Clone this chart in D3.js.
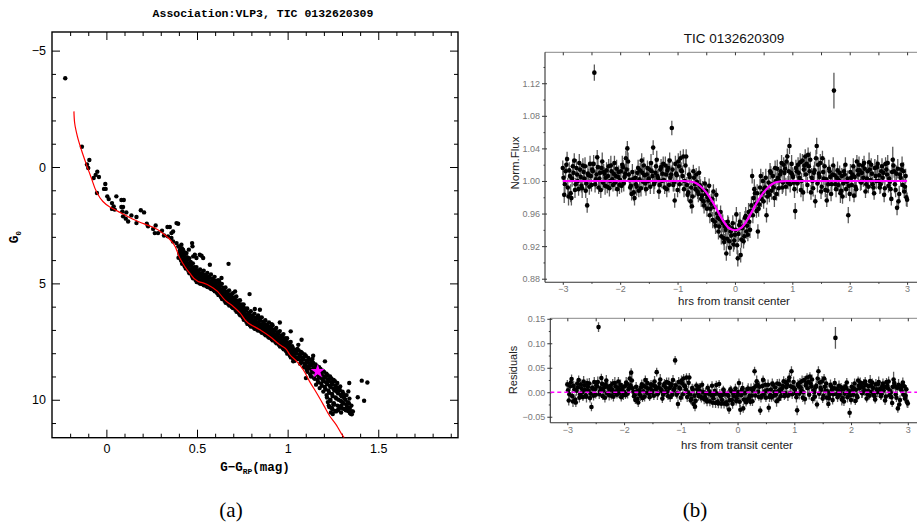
<!DOCTYPE html>
<html>
<head>
<meta charset="utf-8">
<script src="https://cdn.jsdelivr.net/npm/d3@7"></script>
<style>
  html, body { margin: 0; padding: 0; background: #fff; }
  svg { display: block; }
</style>
</head>
<body>
<svg id="fig" width="917" height="529"></svg>
<script>
// ================= data =================

// Panel (a): association members, [G - G_RP, G_0]
const brightMembers = [
  [-0.227,-3.81],[-0.135,-0.87],[-0.094,-0.30],[-0.107,-0.11],[-0.100,0.04],[-0.050,0.20],
  [-0.059,0.34],[-0.070,0.47],[-0.041,0.43],[-0.052,1.12],[-0.006,0.73],[-0.013,0.94],
  [-0.004,0.94],[0.005,1.26],[0.013,1.38],[0.055,1.26],[0.083,1.42],[0.096,1.42],
  [0.031,1.55],[0.040,1.69],[0.031,1.80],[0.083,1.72],[0.092,1.72],[0.046,1.83],
  [0.088,1.91],[0.110,1.95],[0.138,2.08],[0.166,2.15],[0.092,2.12],[0.107,2.22],
  [0.120,2.34],[0.190,1.86],[0.208,1.95],[0.166,2.41],[0.223,2.44],[0.230,2.55],
  [0.272,2.51],[0.258,2.66],[0.267,2.84],[0.285,2.84],[0.307,2.74],[0.337,2.58],
  [0.350,2.58],[0.387,2.41],[0.396,2.44],[0.368,2.77],[0.359,2.84],[0.318,2.94],
  [0.340,2.98],[0.359,3.05],[0.368,3.20],[0.387,3.27],[0.400,3.41],[0.414,3.34],
  [0.423,3.55],[0.433,3.67],[0.442,3.70],[0.473,3.27],[0.475,3.41],[0.455,3.55],
  [0.488,3.77],[0.525,3.81],[0.405,3.77]
];

// main-sequence band, [G - G_RP, G_0]
const bandMembers = [
  [0.398,3.90],[0.403,3.72],[0.405,3.58],[0.397,3.42],
  [0.412,4.02],[0.408,3.86],[0.414,3.70],[0.409,3.55],
  [0.418,4.16],[0.423,3.98],[0.421,3.82],[0.425,3.66],[0.417,3.50],
  [0.432,4.26],[0.428,4.08],[0.434,3.93],[0.429,3.78],
  [0.438,4.36],[0.443,4.18],[0.441,4.04],[0.445,3.88],[0.437,3.72],
  [0.452,4.46],[0.448,4.30],[0.454,4.14],[0.449,3.98],
  [0.458,4.57],[0.463,4.40],[0.461,4.24],[0.465,4.08],[0.457,3.92],
  [0.472,4.68],[0.468,4.50],[0.474,4.35],[0.469,4.20],
  [0.478,4.78],[0.483,4.60],[0.481,4.46],[0.485,4.30],[0.477,4.14],
  [0.492,4.86],[0.488,4.70],[0.494,4.55],[0.489,4.38],
  [0.498,4.94],[0.503,4.78],[0.501,4.62],[0.505,4.46],[0.497,4.30],
  [0.512,4.98],[0.508,4.82],[0.514,4.68],[0.509,4.52],
  [0.518,5.02],[0.523,4.86],[0.521,4.72],[0.525,4.56],[0.517,4.40],
  [0.532,5.04],[0.528,4.90],[0.534,4.76],[0.529,4.60],
  [0.538,5.08],[0.543,4.93],[0.541,4.80],[0.545,4.64],[0.537,4.46],
  [0.552,5.12],[0.548,4.97],[0.554,4.84],[0.549,4.68],
  [0.558,5.16],[0.563,5.01],[0.561,4.88],[0.565,4.72],[0.557,4.55],
  [0.572,5.20],[0.568,5.05],[0.574,4.92],[0.569,4.76],
  [0.578,5.24],[0.583,5.09],[0.581,4.96],[0.585,4.80],[0.577,4.62],
  [0.592,5.28],[0.588,5.13],[0.594,5.00],[0.589,4.85],
  [0.598,5.34],[0.603,5.18],[0.601,5.05],[0.605,4.90],[0.597,4.72],
  [0.612,5.42],[0.608,5.26],[0.614,5.12],[0.609,4.96],
  [0.618,5.50],[0.623,5.33],[0.621,5.18],[0.625,5.03],[0.617,4.86],
  [0.632,5.58],[0.628,5.42],[0.634,5.27],[0.629,5.10],
  [0.638,5.67],[0.643,5.50],[0.641,5.36],[0.645,5.20],[0.637,5.02],
  [0.652,5.75],[0.648,5.58],[0.654,5.44],[0.649,5.28],
  [0.658,5.83],[0.663,5.66],[0.661,5.52],[0.665,5.36],[0.657,5.18],
  [0.672,5.89],[0.668,5.72],[0.674,5.58],[0.669,5.42],
  [0.678,5.95],[0.683,5.78],[0.681,5.64],[0.685,5.48],[0.677,5.30],
  [0.692,6.01],[0.688,5.84],[0.694,5.70],[0.689,5.54],
  [0.698,6.06],[0.703,5.90],[0.701,5.75],[0.705,5.60],[0.697,5.42],
  [0.712,6.14],[0.708,5.97],[0.714,5.83],[0.709,5.67],
  [0.718,6.22],[0.723,6.05],[0.721,5.90],[0.725,5.74],[0.717,5.56],
  [0.732,6.29],[0.728,6.12],[0.734,5.98],[0.729,5.82],
  [0.738,6.37],[0.743,6.20],[0.741,6.05],[0.745,5.90],[0.737,5.72],
  [0.752,6.46],[0.748,6.30],[0.754,6.15],[0.749,5.98],
  [0.758,6.56],[0.763,6.40],[0.761,6.25],[0.765,6.08],[0.757,5.90],
  [0.772,6.65],[0.768,6.48],[0.774,6.33],[0.769,6.16],
  [0.778,6.74],[0.783,6.57],[0.781,6.42],[0.785,6.26],[0.777,6.08],
  [0.792,6.80],[0.788,6.63],[0.794,6.48],[0.789,6.32],
  [0.798,6.86],[0.803,6.70],[0.801,6.55],[0.805,6.38],[0.797,6.20],
  [0.812,6.90],[0.808,6.74],[0.814,6.60],[0.809,6.44],
  [0.818,6.95],[0.823,6.78],[0.821,6.64],[0.825,6.48],[0.817,6.30],
  [0.832,6.99],[0.828,6.82],[0.834,6.68],[0.829,6.52],
  [0.838,7.03],[0.843,6.86],[0.841,6.72],[0.845,6.56],[0.837,6.38],
  [0.852,7.07],[0.848,6.90],[0.854,6.76],[0.849,6.60],
  [0.858,7.12],[0.863,6.95],[0.861,6.80],[0.865,6.65],[0.857,6.46],
  [0.872,7.17],[0.868,7.00],[0.874,6.86],[0.869,6.70],
  [0.878,7.23],[0.883,7.06],[0.881,6.92],[0.885,6.76],[0.877,6.58],
  [0.892,7.29],[0.888,7.12],[0.894,6.97],[0.889,6.82],
  [0.898,7.34],[0.903,7.17],[0.901,7.02],[0.905,6.86],[0.897,6.68],
  [0.912,7.40],[0.908,7.23],[0.914,7.08],[0.909,6.92],
  [0.918,7.45],[0.923,7.28],[0.921,7.14],[0.925,6.98],[0.917,6.80],
  [0.932,7.51],[0.928,7.34],[0.934,7.20],[0.929,7.04],
  [0.938,7.57],[0.943,7.40],[0.941,7.25],[0.945,7.10],[0.937,6.92],
  [0.952,7.64],[0.948,7.47],[0.954,7.32],[0.949,7.16],
  [0.958,7.71],[0.963,7.54],[0.961,7.40],[0.965,7.24],[0.957,7.05],
  [0.972,7.77],[0.968,7.60],[0.974,7.46],[0.969,7.30],
  [0.978,7.83],[0.983,7.66],[0.981,7.52],[0.985,7.36],[0.977,7.18],
  [0.992,7.92],[0.988,7.75],[0.994,7.60],[0.989,7.44],
  [0.998,8.02],[1.003,7.85],[1.001,7.70],[1.005,7.54],[0.997,7.36],
  [1.012,8.10],[1.008,7.93],[1.014,7.78],[1.009,7.62],
  [1.018,8.18],[1.023,8.02],[1.021,7.87],[1.025,7.70],[1.017,7.52],
  [1.032,8.26],[1.028,8.10],[1.034,7.95],[1.029,7.78],
  [1.038,8.33],[1.043,8.17],[1.041,8.02],[1.045,7.86]
];

// cool end of the sequence, [G - G_RP, G_0]
const coolMembers = [
  [1.052,8.20],[1.048,8.00],[1.054,7.82],
  [1.058,8.25],[1.063,8.05],[1.061,7.88],
  [1.072,8.30],[1.068,8.12],[1.074,7.95],[1.069,8.45],
  [1.078,8.38],[1.083,8.18],[1.081,8.00],
  [1.092,8.45],[1.088,8.25],[1.094,8.05],[1.089,8.60],
  [1.098,8.50],[1.103,8.32],[1.101,8.12],[1.105,8.70],
  [1.112,8.58],[1.108,8.40],[1.114,8.20],[1.109,8.80],
  [1.118,8.65],[1.123,8.45],[1.121,8.28],[1.125,8.90],
  [1.132,8.72],[1.128,8.52],[1.134,8.35],[1.129,9.00],
  [1.138,8.80],[1.143,8.60],[1.141,8.42],[1.145,9.05],[1.137,8.25],
  [1.152,8.85],[1.148,8.65],[1.154,8.48],[1.149,9.10],
  [1.158,8.92],[1.163,8.72],[1.161,8.55],[1.165,9.15],[1.157,9.35],
  [1.172,9.00],[1.168,8.80],[1.174,8.60],[1.169,9.25],
  [1.178,9.05],[1.183,8.85],[1.181,8.68],[1.185,9.30],[1.177,9.50],
  [1.192,9.12],[1.188,8.92],[1.194,8.75],[1.189,9.40],
  [1.198,9.20],[1.203,9.00],[1.201,8.80],[1.205,9.45],[1.197,9.65],
  [1.212,9.25],[1.208,9.05],[1.214,8.88],[1.209,9.55],[1.215,9.80],
  [1.218,9.32],[1.223,9.12],[1.221,8.95],[1.225,9.60],[1.217,9.90],[1.222,10.10],
  [1.232,9.40],[1.228,9.20],[1.234,9.00],[1.229,9.70],[1.235,10.00],[1.227,10.25],
  [1.238,9.45],[1.243,9.25],[1.241,9.08],[1.245,9.75],[1.237,10.05],[1.242,10.35],[1.239,10.55],
  [1.252,9.52],[1.248,9.32],[1.254,9.15],[1.249,9.85],[1.255,10.15],[1.247,10.40],
  [1.258,9.60],[1.263,9.40],[1.261,9.20],[1.265,9.90],[1.257,10.20],[1.262,10.48],
  [1.272,9.65],[1.268,9.45],[1.274,9.28],[1.269,9.95],[1.275,10.25],[1.267,10.50],
  [1.278,9.72],[1.283,9.50],[1.281,10.00],[1.285,10.30],[1.277,10.45],
  [1.292,9.78],[1.288,9.58],[1.294,10.05],[1.289,10.35],[1.295,10.55],
  [1.298,9.85],[1.303,9.65],[1.301,10.10],[1.305,10.38],[1.297,10.25],
  [1.312,9.92],[1.308,10.15],[1.314,10.40],[1.309,9.75],
  [1.318,10.00],[1.323,10.20],[1.321,10.45],[1.325,9.80],
  [1.332,10.10],[1.328,10.30],[1.334,10.48],
  [1.338,10.15],[1.343,10.35],[1.341,9.95],
  [1.352,10.25],[1.348,10.50],[1.354,10.62]
];

// scattered members around the sequence
const fieldMembers = [
  [0.674,4.16],[0.790,5.46],[0.710,5.35],[0.957,6.68],[1.017,7.06],[1.077,7.42],
  [1.141,8.11],[1.206,8.35],[0.847,6.13],[0.819,6.10],[0.571,4.20],[0.515,3.77],
  [0.479,3.84],[0.534,3.91],[0.497,3.91],[0.635,4.77],[0.622,4.92],[0.690,5.63],
  [0.755,6.03],[0.838,6.42],[0.912,6.75],[1.059,7.64],[1.101,9.07],[1.031,8.35],
  [1.340,9.28],[1.409,9.18],[1.440,9.26],[1.387,9.89],[1.422,10.04],[1.354,10.50],
  [1.348,10.60],[1.249,10.61],[1.230,10.31],[1.280,10.43],[1.326,10.43],[1.307,9.86],
  [1.335,9.64],[1.290,9.43],[1.267,9.57],[1.252,10.21],[1.344,10.57],[1.360,10.50]
];

// target star
const targetStar = [1.166, 8.78];

// isochrone, [G - G_RP, G_0]
const isochrone = [
  [-0.179,-2.39],[-0.175,-1.89],[-0.160,-1.32],[-0.138,-0.74],[-0.110,-0.10],[-0.083,0.47],
  [-0.055,1.05],[-0.019,1.48],[0.013,1.69],[0.083,1.98],[0.175,2.34],[0.267,2.62],
  [0.322,2.91],[0.368,3.27],[0.405,3.91],[0.459,4.55],[0.506,4.92],[0.534,4.98],
  [0.589,5.20],[0.663,5.78],[0.700,5.99],[0.737,6.27],[0.782,6.70],[0.847,6.99],
  [0.902,7.28],[0.957,7.64],[0.985,7.78],[1.013,8.07],[1.050,8.35],[1.086,8.71],
  [1.120,9.20],[1.160,9.71],[1.200,10.25],[1.234,10.72],[1.270,11.10],[1.300,11.50],
  [1.312,11.63]
];

const cmdXMajor = [0, 0.5, 1, 1.5];
const cmdXMinor = [-0.2,-0.1,0.1,0.2,0.3,0.4,0.6,0.7,0.8,0.9,1.1,1.2,1.3,1.4,1.6,1.7,1.8,1.9];
const cmdYMajor = [-5, 0, 5, 10];
const cmdYMinor = [-4,-3,-2,-1,1,2,3,4,6,7,8,9,11];

// Panel (b): phase-folded light curve, [hours from mid-transit, normalised flux, error]
const lightCurve = [
  [-3.000,1.016,0.009],[-2.975,0.983,0.010],[-2.950,1.012,0.008],[-2.925,1.027,0.009],[-2.900,0.981,0.011],
  [-2.875,1.006,0.008],[-2.850,0.979,0.009],[-2.825,1.018,0.008],[-2.800,1.025,0.009],[-2.775,0.996,0.008],
  [-2.750,1.008,0.009],[-2.725,0.990,0.008],[-2.700,1.014,0.010],[-2.675,0.994,0.008],[-2.650,1.019,0.009],
  [-2.625,1.003,0.008],[-2.600,0.988,0.009],[-2.575,0.970,0.009],[-2.550,1.007,0.008],[-2.525,1.021,0.010],
  [-2.500,0.995,0.008],[-2.475,1.012,0.009],[-2.450,1.133,0.010],[-2.425,1.002,0.012],[-2.400,1.029,0.009],
  [-2.375,0.992,0.008],[-2.350,1.010,0.009],[-2.325,1.016,0.008],[-2.300,0.998,0.009],[-2.275,1.009,0.008],
  [-2.250,1.004,0.009],[-2.225,0.993,0.008],[-2.200,1.018,0.009],[-2.175,1.000,0.008],[-2.150,1.012,0.010],
  [-2.125,0.995,0.008],[-2.100,1.022,0.009],[-2.075,1.006,0.008],[-2.050,0.990,0.009],[-2.025,1.011,0.008],
  [-2.000,1.001,0.009],[-1.975,0.994,0.008],[-1.950,1.017,0.009],[-1.925,1.005,0.008],[-1.900,1.028,0.009],
  [-1.875,1.040,0.009],[-1.850,1.008,0.008],[-1.825,0.992,0.009],[-1.800,0.984,0.008],[-1.775,1.002,0.009],
  [-1.750,0.979,0.009],[-1.725,0.996,0.008],[-1.700,1.010,0.009],[-1.675,0.988,0.008],[-1.650,1.013,0.009],
  [-1.625,1.025,0.009],[-1.600,0.999,0.008],[-1.575,1.007,0.009],[-1.550,0.990,0.008],[-1.525,1.016,0.009],
  [-1.500,1.003,0.008],[-1.475,0.993,0.009],[-1.450,1.012,0.008],[-1.425,1.041,0.009],[-1.400,0.998,0.008],
  [-1.375,1.018,0.009],[-1.350,1.006,0.008],[-1.325,0.987,0.009],[-1.300,1.014,0.008],[-1.275,1.000,0.009],
  [-1.250,1.021,0.009],[-1.225,0.992,0.008],[-1.200,1.008,0.009],[-1.175,1.013,0.008],[-1.150,0.995,0.009],
  [-1.125,1.004,0.008],[-1.100,1.065,0.009],[-1.075,0.995,0.008],[-1.050,0.976,0.009],[-1.025,1.009,0.008],
  [-1.000,0.989,0.009],[-0.975,1.018,0.008],[-0.950,1.028,0.009],[-0.925,1.012,0.008],[-0.900,1.030,0.009],
  [-0.875,1.000,0.008],[-0.850,1.030,0.009],[-0.825,0.983,0.008],[-0.800,1.008,0.009],[-0.775,0.975,0.009],
  [-0.750,0.969,0.009],[-0.725,1.012,0.008],[-0.700,0.996,0.009],[-0.675,1.008,0.008],[-0.650,0.987,0.009],
  [-0.625,1.010,0.008],[-0.600,0.993,0.009],[-0.575,0.982,0.008],[-0.550,0.975,0.009],[-0.525,0.997,0.008],
  [-0.500,0.988,0.009],[-0.475,0.980,0.008],[-0.450,0.994,0.009],[-0.425,0.966,0.009],[-0.400,0.978,0.008],
  [-0.375,0.987,0.009],[-0.350,0.950,0.009],[-0.325,0.983,0.008],[-0.300,0.955,0.009],[-0.275,0.944,0.009],
  [-0.250,0.962,0.008],[-0.225,0.951,0.009],[-0.200,0.930,0.009],[-0.175,0.944,0.008],[-0.150,0.911,0.009],
  [-0.125,0.950,0.008],[-0.100,0.926,0.009],[-0.075,0.938,0.008],[-0.050,0.942,0.009],[-0.025,0.922,0.009],
  [0.000,0.934,0.008],[0.025,0.959,0.009],[0.050,0.905,0.010],[0.075,0.946,0.008],[0.100,0.909,0.009],
  [0.125,0.942,0.008],[0.150,0.926,0.009],[0.175,0.955,0.008],[0.200,0.938,0.009],[0.225,0.934,0.008],
  [0.250,0.950,0.009],[0.275,0.963,0.008],[0.300,1.006,0.009],[0.325,0.979,0.008],[0.350,0.985,0.009],
  [0.375,0.963,0.008],[0.400,0.938,0.009],[0.425,0.971,0.008],[0.450,1.006,0.009],[0.475,0.985,0.008],
  [0.500,0.975,0.009],[0.525,0.992,0.008],[0.550,0.958,0.009],[0.575,0.986,0.008],[0.600,0.983,0.009],
  [0.625,1.010,0.008],[0.650,0.996,0.009],[0.675,0.992,0.008],[0.700,1.016,0.009],[0.725,0.984,0.008],
  [0.750,1.004,0.009],[0.775,1.000,0.008],[0.800,1.012,0.009],[0.825,0.992,0.008],[0.850,1.020,0.009],
  [0.875,1.015,0.008],[0.900,1.024,0.009],[0.925,0.998,0.008],[0.950,1.043,0.010],[0.975,1.010,0.008],
  [1.000,1.008,0.009],[1.025,0.998,0.008],[1.050,0.963,0.010],[1.075,1.012,0.008],[1.100,1.020,0.009],
  [1.125,1.004,0.008],[1.150,0.989,0.009],[1.175,1.025,0.008],[1.200,1.014,0.009],[1.225,1.030,0.009],
  [1.250,1.021,0.008],[1.275,1.032,0.009],[1.300,1.012,0.008],[1.325,0.986,0.009],[1.350,1.000,0.008],
  [1.375,1.010,0.009],[1.400,0.975,0.008],[1.425,1.043,0.010],[1.450,1.020,0.009],[1.475,1.005,0.008],
  [1.500,0.987,0.009],[1.525,1.028,0.009],[1.550,1.003,0.008],[1.575,0.989,0.009],[1.600,0.976,0.008],
  [1.625,0.996,0.009],[1.650,1.012,0.008],[1.675,0.984,0.009],[1.700,1.008,0.008],[1.725,1.111,0.022],
  [1.750,0.996,0.008],[1.775,1.004,0.009],[1.800,0.995,0.008],[1.825,1.010,0.009],[1.850,0.988,0.008],
  [1.875,0.981,0.009],[1.900,1.012,0.008],[1.925,1.020,0.009],[1.950,0.999,0.008],[1.975,0.958,0.010],
  [2.000,0.984,0.009],[2.025,1.004,0.008],[2.050,1.008,0.009],[2.075,0.982,0.008],[2.100,0.993,0.009],
  [2.125,1.024,0.008],[2.150,1.008,0.009],[2.175,1.013,0.008],[2.200,0.998,0.009],[2.225,1.019,0.008],
  [2.250,1.022,0.009],[2.275,0.987,0.008],[2.300,1.003,0.009],[2.325,0.993,0.008],[2.350,1.014,0.009],
  [2.375,1.020,0.008],[2.400,0.996,0.009],[2.425,0.985,0.008],[2.450,1.006,0.009],[2.475,1.017,0.008],
  [2.500,1.000,0.009],[2.525,0.992,0.008],[2.550,1.012,0.009],[2.575,1.004,0.008],[2.600,0.983,0.009],
  [2.625,1.021,0.008],[2.650,1.008,0.009],[2.675,0.994,0.008],[2.700,0.999,0.009],[2.725,0.978,0.008],
  [2.750,1.026,0.016],[2.775,1.012,0.008],[2.800,0.989,0.009],[2.825,0.967,0.009],[2.850,0.975,0.008],
  [2.875,1.008,0.009],[2.900,1.014,0.008],[2.925,0.995,0.009],[2.950,0.987,0.008],[2.975,1.006,0.009],
  [3.000,0.977,0.009],
  [-2.9875,1.004,0.010],[-2.9625,0.996,0.011],[-2.9375,1.020,0.010],[-2.9125,0.992,0.012],[-2.8875,1.013,0.010],
  [-2.8625,0.985,0.011],[-2.8375,1.003,0.010],[-2.8125,1.010,0.011],[-2.7875,0.989,0.010],[-2.7625,1.016,0.011],
  [-2.7375,1.000,0.010],[-2.7125,1.022,0.011],[-2.6875,1.005,0.010],[-2.6625,0.991,0.012],[-2.6375,1.011,0.010],
  [-2.6125,1.018,0.011],[-2.5875,0.997,0.010],[-2.5625,1.009,0.011],[-2.5375,0.993,0.010],[-2.5125,1.006,0.011],
  [-2.4875,1.014,0.010],[-2.4625,1.021,0.011],[-2.4375,0.996,0.010],[-2.4125,1.008,0.012],[-2.3875,1.017,0.010],
  [-2.3625,1.003,0.011],[-2.3375,0.989,0.010],[-2.3125,1.024,0.011],[-2.2875,1.011,0.010],[-2.2625,0.994,0.011],
  [-2.2375,1.013,0.010],[-2.2125,1.006,0.011],[-2.1875,0.991,0.010],[-2.1625,1.019,0.012],[-2.1375,1.002,0.010],
  [-2.1125,1.009,0.011],[-2.0875,0.998,0.010],[-2.0625,1.015,0.011],[-2.0375,1.005,0.010],[-2.0125,0.995,0.011],
  [-1.9875,1.012,0.010],[-1.9625,1.020,0.011],[-1.9375,0.997,0.010],[-1.9125,1.009,0.012],[-1.8875,1.014,0.010],
  [-1.8625,1.024,0.011],[-1.8375,1.001,0.010],[-1.8125,0.994,0.011],[-1.7875,1.011,0.010],[-1.7625,0.986,0.011],
  [-1.7375,1.004,0.010],[-1.7125,0.993,0.011],[-1.6875,1.016,0.010],[-1.6625,1.002,0.012],[-1.6375,0.991,0.010],
  [-1.6125,1.010,0.011],[-1.5875,1.019,0.010],[-1.5625,0.997,0.011],[-1.5375,1.008,0.010],[-1.5125,1.000,0.011],
  [-1.4875,1.014,0.010],[-1.4625,1.022,0.011],[-1.4375,1.006,0.010],[-1.4125,0.996,0.012],[-1.3875,1.010,0.010],
  [-1.3625,1.026,0.011],[-1.3375,1.003,0.010],[-1.3125,0.995,0.011],[-1.2875,1.017,0.010],[-1.2625,1.009,0.011],
  [-1.2375,1.001,0.010],[-1.2125,1.019,0.011],[-1.1875,0.990,0.010],[-1.1625,1.016,0.012],[-1.1375,1.025,0.010],
  [-1.1125,1.008,0.011],[-1.0875,1.014,0.010],[-1.0625,0.998,0.011],[-1.0375,1.021,0.010],[-1.0125,1.007,0.011],
  [-0.9875,1.024,0.010],[-0.9625,0.996,0.011],[-0.9375,1.013,0.010],[-0.9125,1.006,0.012],[-0.8875,0.990,0.010],
  [-0.8625,1.019,0.011],[-0.8375,0.995,0.010],[-0.8125,0.986,0.011],[-0.7875,1.005,0.010],[-0.7625,0.992,0.011],
  [-0.7375,0.981,0.010],[-0.7125,1.004,0.011],[-0.6875,0.990,0.010],[-0.6625,0.999,0.012],[-0.6375,0.984,0.010],
  [-0.6125,0.995,0.011],[-0.5875,0.978,0.010],[-0.5625,0.989,0.011],[-0.5375,0.970,0.010],[-0.5125,0.984,0.011],
  [-0.4875,0.966,0.010],[-0.4625,0.976,0.011],[-0.4375,0.958,0.010],[-0.4125,0.972,0.012],[-0.3875,0.952,0.010],
  [-0.3625,0.968,0.011],[-0.3375,0.945,0.010],[-0.3125,0.960,0.011],[-0.2875,0.938,0.010],[-0.2625,0.953,0.011],
  [-0.2375,0.932,0.010],[-0.2125,0.948,0.011],[-0.1875,0.925,0.010],[-0.1625,0.940,0.012],[-0.1375,0.929,0.010],
  [-0.1125,0.945,0.011],[-0.0875,0.918,0.010],[-0.0625,0.933,0.011],[-0.0375,0.948,0.010],[-0.0125,0.927,0.011],
  [0.0125,0.940,0.010],[0.0375,0.921,0.011],[0.0625,0.935,0.010],[0.0875,0.950,0.012],[0.1125,0.928,0.010],
  [0.1375,0.944,0.011],[0.1625,0.932,0.010],[0.1875,0.957,0.011],[0.2125,0.945,0.010],[0.2375,0.962,0.011],
  [0.2625,0.940,0.010],[0.2875,0.970,0.011],[0.3125,0.958,0.010],[0.3375,0.990,0.012],[0.3625,0.972,0.010],
  [0.3875,0.985,0.011],[0.4125,0.966,0.010],[0.4375,0.992,0.011],[0.4625,0.978,0.010],[0.4875,1.000,0.011],
  [0.5125,0.990,0.010],[0.5375,1.004,0.011],[0.5625,0.981,0.010],[0.5875,0.998,0.012],[0.6125,1.012,0.010],
  [0.6375,0.988,0.011],[0.6625,1.006,0.010],[0.6875,0.979,0.011],[0.7125,1.000,0.010],[0.7375,1.015,0.011],
  [0.7625,0.991,0.010],[0.7875,1.008,0.011],[0.8125,1.022,0.010],[0.8375,0.998,0.012],[0.8625,1.010,0.010],
  [0.8875,0.993,0.011],[0.9125,1.030,0.010],[0.9375,1.012,0.011],[0.9625,0.996,0.010],[0.9875,1.021,0.011],
  [1.0125,1.005,0.010],[1.0375,0.990,0.011],[1.0625,1.016,0.010],[1.0875,0.997,0.012],[1.1125,1.010,0.010],
  [1.1375,1.023,0.011],[1.1625,1.000,0.010],[1.1875,0.986,0.011],[1.2125,1.019,0.010],[1.2375,1.008,0.011],
  [1.2625,0.995,0.010],[1.2875,1.018,0.011],[1.3125,1.026,0.010],[1.3375,1.004,0.012],[1.3625,0.991,0.010],
  [1.3875,1.013,0.011],[1.4125,1.028,0.010],[1.4375,0.997,0.011],[1.4625,1.009,0.010],[1.4875,1.022,0.011],
  [1.5125,0.993,0.010],[1.5375,1.011,0.011],[1.5625,1.018,0.010],[1.5875,1.002,0.012],[1.6125,0.988,0.010],
  [1.6375,1.015,0.011],[1.6625,1.005,0.010],[1.6875,0.996,0.011],[1.7125,1.019,0.010],[1.7375,1.007,0.011],
  [1.7625,0.990,0.010],[1.7875,1.013,0.011],[1.8125,1.001,0.010],[1.8375,0.985,0.012],[1.8625,1.006,0.010],
  [1.8875,0.997,0.011],[1.9125,1.008,0.010],[1.9375,0.990,0.011],[1.9625,1.003,0.010],[1.9875,0.994,0.011],
  [2.0125,1.011,0.010],[2.0375,0.995,0.011],[2.0625,1.018,0.010],[2.0875,1.005,0.012],[2.1125,0.990,0.010],
  [2.1375,1.013,0.011],[2.1625,1.020,0.010],[2.1875,0.999,0.011],[2.2125,1.010,0.010],[2.2375,1.004,0.011],
  [2.2625,1.015,0.010],[2.2875,0.996,0.011],[2.3125,1.012,0.010],[2.3375,1.023,0.012],[2.3625,1.001,0.010],
  [2.3875,1.009,0.011],[2.4125,0.992,0.010],[2.4375,1.016,0.011],[2.4625,1.000,0.010],[2.4875,1.021,0.011],
  [2.5125,1.007,0.010],[2.5375,0.996,0.011],[2.5625,1.018,0.010],[2.5875,1.010,0.012],[2.6125,0.991,0.010],
  [2.6375,1.014,0.011],[2.6625,1.022,0.010],[2.6875,1.003,0.011],[2.7125,0.990,0.010],[2.7375,1.011,0.011],
  [2.7625,1.019,0.010],[2.7875,0.996,0.011],[2.8125,1.009,0.010],[2.8375,1.015,0.012],[2.8625,0.984,0.010],
  [2.8875,1.004,0.011],[2.9125,1.020,0.010],[2.9375,1.012,0.011],[2.9625,0.993,0.010],[2.9875,0.980,0.011]
];

// best-fit transit model
const modelHours = [-3,-0.9,-0.8,-0.7,-0.6,-0.5,-0.4,-0.3,-0.2,-0.1,0,0.1,0.2,0.3,0.4,0.5,0.6,0.7,0.8,0.9,3];
const modelFlux  = [1,1,0.9995,0.998,0.9935,0.986,0.9755,0.963,0.9505,0.942,0.9395,0.942,0.9505,0.963,0.9755,0.986,0.9935,0.998,0.9995,1,1];

const hrsMajor = [-3,-2,-1,0,1,2,3];
const hrsMinor = [-2.5,-1.5,-0.5,0.5,1.5,2.5];
const fluxMajor = [0.88,0.92,0.96,1.00,1.04,1.08,1.12];
const fluxMinor = [0.90,0.94,0.98,1.02,1.06,1.10,1.14];
const residMajor = [-0.05,0,0.05,0.10,0.15];
const residMinor = [-0.025,0.025,0.075,0.125];

// ================= drawing =================
const svg = d3.select("#fig");
const pgFont = "'Liberation Mono', 'DejaVu Sans Mono', monospace";
const sansFont = "'Liberation Sans', Arial, sans-serif";

// ---------- panel (a) ----------
const cx = d3.scaleLinear().domain([-0.3, 1.94]).range([52, 458]);
const cy = d3.scaleLinear().domain([-5.8, 11.63]).range([32, 437.7]);
const [cx0, cx1] = cx.range(), [cy0, cy1] = cy.range();

const gA = svg.append("g");
gA.append("defs").append("clipPath").attr("id", "clipA")
  .append("rect").attr("x", cx0).attr("y", cy0).attr("width", cx1 - cx0).attr("height", cy1 - cy0);

function pgAxis(axis, tx, ty, size, values, fmt) {
  const g = gA.append("g").attr("transform", `translate(${tx},${ty})`)
    .call(axis.tickValues(values).tickSizeInner(size).tickSizeOuter(0)
      .tickFormat(fmt || "").tickPadding(6));
  g.select(".domain").remove();
  g.selectAll(".tick line").attr("stroke", "#000").attr("stroke-width", 1);
  g.selectAll("text").attr("font-family", sansFont).attr("font-size", 12.5).attr("fill", "#000");
  return g;
}
pgAxis(d3.axisBottom(cx), 0, cy1, -8, cmdXMajor, d3.format("~g"));
pgAxis(d3.axisBottom(cx), 0, cy1, -4, cmdXMinor);
pgAxis(d3.axisTop(cx), 0, cy0, -8, cmdXMajor);
pgAxis(d3.axisTop(cx), 0, cy0, -4, cmdXMinor);
pgAxis(d3.axisLeft(cy), cx0, 0, -8, cmdYMajor, d3.format("d"));
pgAxis(d3.axisLeft(cy), cx0, 0, -4, cmdYMinor);
pgAxis(d3.axisRight(cy), cx1, 0, -8, cmdYMajor);
pgAxis(d3.axisRight(cy), cx1, 0, -4, cmdYMinor);

gA.append("rect").attr("x", cx0).attr("y", cy0).attr("width", cx1 - cx0).attr("height", cy1 - cy0)
  .attr("fill", "none").attr("stroke", "#000").attr("stroke-width", 1.4);

const members = brightMembers.concat(bandMembers, coolMembers, fieldMembers);

const plotA = gA.append("g").attr("clip-path", "url(#clipA)");
plotA.append("g").selectAll("circle").data(members).join("circle")
  .attr("cx", d => cx(d[0])).attr("cy", d => cy(d[1])).attr("r", 2.2).attr("fill", "#000");

plotA.append("path").datum(isochrone)
  .attr("d", d3.line().x(d => cx(d[0])).y(d => cy(d[1])).curve(d3.curveMonotoneY))
  .attr("fill", "none").attr("stroke", "#ff0000").attr("stroke-width", 1.2);

plotA.append("path")
  .attr("d", d3.symbol(d3.symbolStar, 62)())
  .attr("transform", `translate(${cx(targetStar[0])},${cy(targetStar[1])})`)
  .attr("fill", "#ff00ff");

gA.append("text").attr("x", 263).attr("y", 17).attr("text-anchor", "middle")
  .attr("font-family", pgFont).attr("font-weight", "bold").attr("font-size", 11.5)
  .text("Association:VLP3, TIC 0132620309");

const xl = gA.append("text").attr("x", 255).attr("y", 471).attr("text-anchor", "middle")
  .attr("font-family", pgFont).attr("font-weight", "bold").attr("font-size", 12.5);
xl.append("tspan").text("G\u2212G");
xl.append("tspan").attr("dy", 3).attr("font-size", 8).text("RP");
xl.append("tspan").attr("dy", -3).text("(mag)");

const yl = gA.append("text").attr("transform", "translate(18,237) rotate(-90)")
  .attr("text-anchor", "middle").attr("font-family", pgFont).attr("font-weight", "bold").attr("font-size", 12.5);
yl.append("tspan").text("G");
yl.append("tspan").attr("dy", 3).attr("font-size", 8).text("0");

svg.append("text").attr("x", 231).attr("y", 517).attr("text-anchor", "middle")
  .attr("font-family", "'Liberation Serif', 'DejaVu Serif', serif").attr("font-size", 21).text("(a)");
svg.append("text").attr("x", 695).attr("y", 517).attr("text-anchor", "middle")
  .attr("font-family", "'Liberation Serif', 'DejaVu Serif', serif").attr("font-size", 21).text("(b)");

// ---------- panel (b) ----------
const model = d3.scaleLinear().domain(modelHours).range(modelFlux);
const residuals = lightCurve.map(([t, f, e]) => [t, f - model(t), e]);

function lcPanel(opts) {
  const { x, y, yMajor, yMinor, yFmt, data, id } = opts;
  const [x0, x1] = x.range(), [y1, y0] = y.range();
  const g = svg.append("g");
  g.append("defs").append("clipPath").attr("id", id)
    .append("rect").attr("x", x0).attr("y", y0).attr("width", x1 - x0).attr("height", y1 - y0);

  // frame: dark left and bottom, lighter top
  g.append("line").attr("x1", x0).attr("x2", x1).attr("y1", y0).attr("y2", y0)
    .attr("stroke", "#888").attr("stroke-width", 1);
  g.append("line").attr("x1", x0).attr("x2", x0).attr("y1", y0).attr("y2", y1)
    .attr("stroke", "#333").attr("stroke-width", 1.1);
  g.append("line").attr("x1", x0).attr("x2", x1).attr("y1", y1).attr("y2", y1)
    .attr("stroke", "#333").attr("stroke-width", 1.1);

  const style = sel => {
    sel.select(".domain").remove();
    sel.selectAll(".tick line").attr("stroke", "#333").attr("stroke-width", 1);
    sel.selectAll("text").attr("font-family", sansFont).attr("font-size", 9).attr("fill", "#777");
  };
  // x axis
  const bx = g.append("g").attr("transform", `translate(0,${y1})`)
    .call(d3.axisBottom(x).tickValues(hrsMajor).tickSizeInner(2.5).tickSizeOuter(0)
      .tickPadding(1).tickFormat(d3.format("d")));
  style(bx);
  const bxm = g.append("g").attr("transform", `translate(0,${y1})`)
    .call(d3.axisBottom(x).tickValues(hrsMinor).tickSizeInner(1.5).tickSizeOuter(0).tickFormat(""));
  style(bxm);
  const tx = g.append("g").attr("transform", `translate(0,${y0})`)
    .call(d3.axisTop(x).tickValues(hrsMajor.concat(hrsMinor)).tickSizeInner(-3).tickSizeOuter(0).tickFormat(""));
  style(tx);
  // y axis
  const ly = g.append("g").attr("transform", `translate(${x0},0)`)
    .call(d3.axisLeft(y).tickValues(yMajor).tickSizeInner(3).tickSizeOuter(0)
      .tickPadding(2).tickFormat(yFmt));
  style(ly);
  ly.selectAll(".tick line").attr("x1", 2);
  const lym = g.append("g").attr("transform", `translate(${x0},0)`)
    .call(d3.axisLeft(y).tickValues(yMinor).tickSizeInner(1.5).tickSizeOuter(0).tickFormat(""));
  style(lym);

  const p = g.append("g").attr("clip-path", `url(#${id})`);
  p.append("g").selectAll("line").data(data).join("line")
    .attr("x1", d => x(d[0])).attr("x2", d => x(d[0]))
    .attr("y1", d => y(d[1] - d[2])).attr("y2", d => y(d[1] + d[2]))
    .attr("stroke", "#5a5a5a").attr("stroke-width", 1.3);
  p.append("g").selectAll("circle").data(data).join("circle")
    .attr("cx", d => x(d[0])).attr("cy", d => y(d[1])).attr("r", 2.3).attr("fill", "#000");
  return { g, p };
}

const fx = d3.scaleLinear().domain([-3.31, 3.19]).range([545, 918]);
const fy = d3.scaleLinear().domain([0.8756, 1.158]).range([282.3, 52.3]);
const fluxPanel = lcPanel({ x: fx, y: fy, yMajor: fluxMajor, yMinor: fluxMinor,
  yFmt: d3.format(".2f"), data: lightCurve, id: "clipF" });
fluxPanel.p.append("path").datum(modelHours.map((t, i) => [t, modelFlux[i]]))
  .attr("d", d3.line().x(d => fx(d[0])).y(d => fy(d[1])).curve(d3.curveMonotoneX))
  .attr("fill", "none").attr("stroke", "#ff00ff").attr("stroke-width", 2.2);

const rx = d3.scaleLinear().domain([-3.30, 3.18]).range([550.3, 918]);
const ry = d3.scaleLinear().domain([-0.0622, 0.151]).range([422.7, 318.3]);
const residPanel = lcPanel({ x: rx, y: ry, yMajor: residMajor, yMinor: residMinor,
  yFmt: d3.format(".2f"), data: residuals, id: "clipR" });
residPanel.p.append("line")
  .attr("x1", rx.range()[0]).attr("x2", rx.range()[1]).attr("y1", ry(0)).attr("y2", ry(0))
  .attr("stroke", "#ff00ff").attr("stroke-width", 1.3).attr("stroke-dasharray", "4,3");

// titles and axis labels of panel (b)
const lab = (x, y, txt, size, rot, fill) => svg.append("text")
  .attr("transform", `translate(${x},${y})` + (rot ? " rotate(-90)" : ""))
  .attr("text-anchor", "middle").attr("font-family", sansFont)
  .attr("font-size", size).attr("fill", fill || "#222").text(txt);
lab(734, 43, "TIC 0132620309", 13.5, false, "#111");
lab(734, 305, "hrs from transit center", 11.5);
lab(519, 163, "Norm.Flux", 11.5, true);
lab(737, 449, "hrs from transit center", 11.5);
lab(517, 370, "Residuals", 11, true);
</script>
</body>
</html>
